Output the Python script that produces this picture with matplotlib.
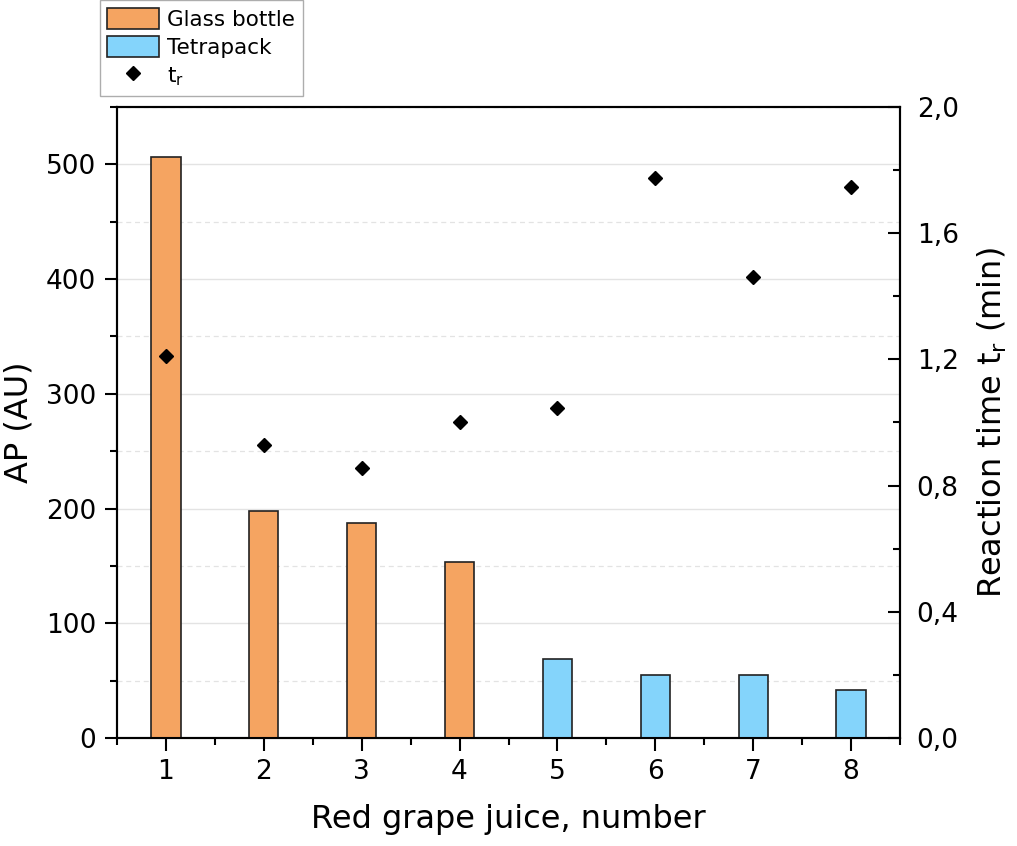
import matplotlib.pyplot as plt
from matplotlib.ticker import MultipleLocator, FuncFormatter
from matplotlib.patches import Patch
from matplotlib.lines import Line2D

# data
juice = [1, 2, 3, 4, 5, 6, 7, 8]
ap_values = [506, 198, 187, 153, 69, 55, 55, 42]
packaging = ["Glass bottle", "Glass bottle", "Glass bottle", "Glass bottle",
             "Tetrapack", "Tetrapack", "Tetrapack", "Tetrapack"]
tr_values = [1.21, 0.93, 0.855, 1.0, 1.045, 1.775, 1.46, 1.745]

colors = {"Glass bottle": "#F5A461", "Tetrapack": "#84D4FB"}

fig = plt.figure(figsize=(10.17, 8.46), dpi=100)
ax = fig.add_axes([0.115, 0.1277, 0.77, 0.7458])
ax2 = ax.twinx()

ax.bar(juice, ap_values, width=0.3, color=[colors[p] for p in packaging],
       edgecolor="#222222", linewidth=1.2, zorder=3)
ax2.plot(juice, tr_values, linestyle="none", marker="D", markersize=7.5,
         color="black", zorder=4)

ax.set_xlim(0.5, 8.5)
ax.set_ylim(0, 550)
ax2.set_ylim(0, 2.0)

ax.xaxis.set_major_locator(MultipleLocator(1))
ax.xaxis.set_minor_locator(MultipleLocator(0.5))
ax.yaxis.set_major_locator(MultipleLocator(100))
ax.yaxis.set_minor_locator(MultipleLocator(50))
ax2.yaxis.set_major_locator(MultipleLocator(0.4))
ax2.yaxis.set_minor_locator(MultipleLocator(0.2))
ax2.yaxis.set_major_formatter(FuncFormatter(lambda v, p: f"{v:.1f}".replace(".", ",")))

ax.grid(True, which="major", axis="y", color="#e3e3e3", linewidth=1.0, zorder=0)
ax.grid(True, which="minor", axis="y", color="#e3e3e3", linewidth=0.9,
        linestyle=(0, (4, 3)), zorder=0)

ax.tick_params(axis="both", which="major", direction="out", length=9, width=1.5,
               labelsize=19, pad=6)
ax.tick_params(axis="both", which="minor", direction="out", length=5, width=1.5)
ax.tick_params(axis="x", which="both", top=False)
ax2.tick_params(axis="y", which="major", direction="in", length=9, width=1.5,
                labelsize=19, pad=12)
ax2.tick_params(axis="y", which="minor", direction="in", length=5, width=1.5)

for a in (ax, ax2):
    for s in a.spines.values():
        s.set_linewidth(1.5)

ax.set_xlabel("Red grape juice, number", fontsize=23, labelpad=14)
ax.set_ylabel("AP (AU)", fontsize=23, labelpad=8)
ax2.set_ylabel("Reaction time t$_\\mathregular{r}$ (min)", fontsize=23, labelpad=12)

handles = [
    Patch(facecolor=colors["Glass bottle"], edgecolor="#222222", linewidth=1.2),
    Patch(facecolor=colors["Tetrapack"], edgecolor="#222222", linewidth=1.2),
    Line2D([], [], linestyle="none", marker="D", markersize=7.5, color="black"),
]
labels = ["Glass bottle", "Tetrapack", "t$_\\mathregular{r}$"]
leg = fig.legend(handles, labels, loc="upper left", bbox_to_anchor=(0.098, 1.0),
                 fontsize=15.5, frameon=True, fancybox=False, edgecolor="#999999",
                 handlelength=2.4, handleheight=1.15, borderpad=0.35, labelspacing=0.3,
                 handletextpad=0.4, borderaxespad=0.0)
leg.get_frame().set_linewidth(1.0)

fig.savefig("out.png", dpi=100)
